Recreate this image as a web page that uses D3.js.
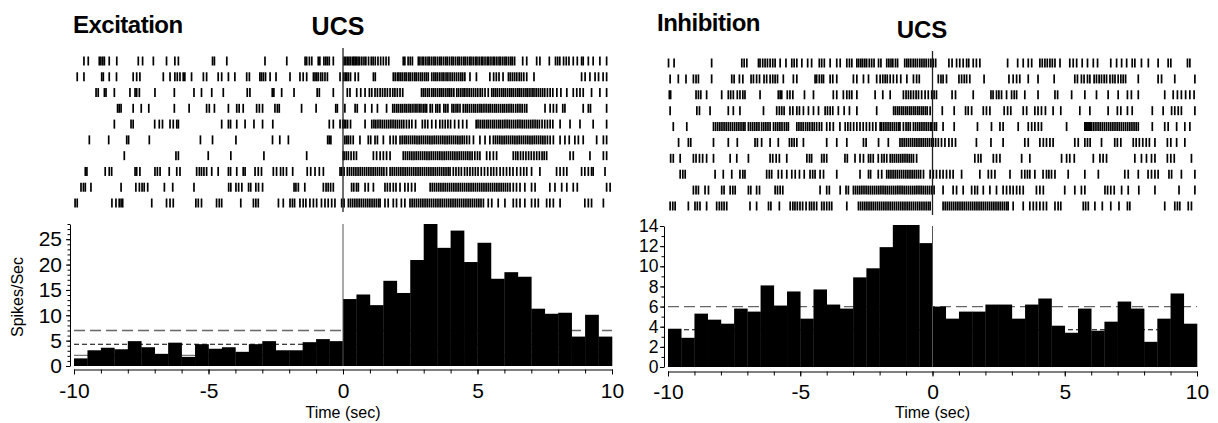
<!DOCTYPE html>
<html lang="en">
<head>
<meta charset="UTF-8">
<title>Excitation / Inhibition rasters</title>
<style>
  body { margin: 0; background: #fff; }
  svg { display: block; font-family: "Liberation Sans", Arial, sans-serif; }
  .title { font-weight: bold; }
  .axis path, .axis line { stroke: #000; }
  .axis text { fill: #000; }
</style>
</head>
<body>
<svg id="chart" width="1218" height="423"></svg>
<script src="https://d3js.org/d3.v7.min.js"></script>
<script>
// histogram bins: 0.5 s wide, from -10 s to +10 s
const binStart = -10;
const binWidth = 0.5;
const xTickValues = [-10, -5, 0, 5, 10];

// spikes/sec per bin
const excitationRate = [1.5, 3.1, 3.6, 3.3, 4.9, 3.7, 2.4, 4.6, 1.8, 4.3,
  3.4, 3.7, 2.8, 4.3, 4.9, 3.1, 3.1, 4.7, 5.3, 4.9,
  13.2, 14.1, 12.0, 16.8, 14.4, 20.9, 28.0, 23.3, 26.7, 20.5,
  24.3, 17.2, 18.5, 17.6, 11.3, 10.3, 10.5, 5.8, 10.1, 5.8];
const inhibitionRate = [3.8, 2.9, 5.3, 4.7, 4.3, 5.8, 5.5, 8.1, 6.1, 7.5,
  4.8, 7.7, 6.2, 5.8, 8.9, 9.8, 11.9, 14.1, 14.1, 12.3,
  6.0, 4.8, 5.5, 5.5, 6.2, 6.2, 4.8, 6.2, 6.8, 4.1,
  3.4, 5.8, 3.6, 4.5, 6.5, 5.8, 2.5, 4.8, 7.3, 4.3];

// reference lines (baseline mean, mean + 2 SD, lower bound)
const excitationLines = { upper: 7.0, mean: 4.3, lower: 2.1 };
const inhibitionLines = { upper: 6.0, mean: 3.7 };

// spike times (s) of the 10 trials in each raster
const excitationTrials = [
  [-9.63,-9.47,-9.06,-9.0,-8.93,-8.87,-8.69,-8.41,-7.61,-7.45,-7.05,-6.56,-6.25,-6.12,-4.85,-4.78,-4.32,-2.9,-2.09,-1.41,-1.35,-1.25,-1.16,-0.92,-0.86,-0.71,-0.64,-0.58,-0.51,-0.36,
   0.04,0.1,0.16,0.22,0.28,0.35,0.4,0.45,0.5,0.56,0.62,0.7,0.78,0.85,0.95,1.05,1.12,1.2,1.3,1.4,1.5,1.6,1.7,
   2.24,2.3,2.42,2.5,2.58,2.8,2.86,2.94,3.0,3.08,3.16,3.22,3.3,3.38,3.44,3.52,3.6,3.66,3.74,3.82,3.88,3.96,4.04,4.1,4.18,4.26,4.32,4.4,4.48,4.54,4.62,4.7,4.76,4.84,4.92,4.98,5.06,5.14,5.2,5.28,5.36,5.42,5.5,5.58,5.64,5.72,5.8,5.86,5.94,6.02,6.08,6.16,6.24,6.3,6.38,
   6.68,6.83,7.2,7.32,7.67,7.9,7.98,8.06,8.2,8.3,8.4,8.56,8.71,8.87,8.93,9.12,9.3,9.55,9.8],
  [-9.88,-9.63,-8.97,-8.91,-8.69,-8.42,-7.8,-7.67,-7.55,-6.68,-6.43,-6.25,-6.16,-6.06,-5.94,-5.88,-5.63,-5.19,-5.07,-4.64,-4.51,-4.26,-4.02,-3.58,-3.48,-3.09,-3.03,-2.96,-2.88,-2.71,-2.49,-1.97,-1.6,-1.48,-1.35,-1.1,-1.04,-0.98,-0.92,-0.83,-0.76,-0.67,-0.58,-0.11,
   0.02,0.08,0.14,0.2,0.28,0.45,0.57,1.13,1.2,
   1.87,1.94,2.02,2.08,2.15,2.22,2.3,2.36,2.44,2.5,2.58,2.66,2.72,2.8,2.88,2.95,3.03,3.1,3.17,
   3.3,3.38,3.45,3.52,3.6,3.68,3.75,3.83,3.9,3.98,4.06,4.14,4.22,4.3,4.38,4.45,4.53,
   4.72,4.96,5.46,5.6,5.7,5.8,5.95,6.15,6.22,6.3,6.38,6.46,6.55,6.63,6.72,6.83,7.1,8.87,9.0,9.18,9.37,9.5,9.67,9.8],
  [-9.18,-9.1,-8.87,-8.81,-8.5,-7.92,-7.73,-7.67,-7.57,-6.99,-6.27,-5.54,-5.26,-4.88,-4.45,-3.56,-3.46,-2.63,-2.57,-2.28,-1.82,-0.96,-0.88,-0.36,
   0.16,0.26,0.51,0.66,0.82,0.98,1.07,1.19,1.28,1.38,1.47,1.56,1.65,1.75,1.85,1.93,2.02,2.12,2.22,
   2.92,2.99,3.06,3.14,3.21,3.3,3.37,3.44,3.52,3.6,3.67,3.74,3.82,3.9,3.97,4.04,4.12,4.23,4.3,4.38,4.46,4.53,4.61,4.69,4.77,4.85,4.93,5.01,5.1,5.18,5.28,5.4,
   5.53,5.6,5.67,5.74,5.82,5.9,5.97,6.04,6.12,6.2,6.27,6.34,6.42,6.5,6.57,6.64,6.72,6.8,6.87,6.95,7.03,7.1,7.18,7.26,7.34,7.42,7.5,7.6,7.7,7.8,7.95,8.1,8.32,8.56,8.69,8.81,8.93,9.24,9.55,9.8],
  [-8.38,-8.32,-8.25,-7.8,-7.5,-7.22,-6.27,-5.72,-5.07,-4.97,-4.78,-4.26,-3.95,-3.86,-3.71,-3.21,-3.11,-2.99,-2.53,-2.44,-2.37,-1.54,-1.0,-0.27,-0.21,
   0.07,0.45,0.53,0.82,1.07,1.28,1.62,
   1.85,1.92,2.0,2.07,2.15,2.22,2.3,2.37,2.45,2.52,2.6,2.68,2.75,2.83,2.9,2.98,3.05,3.11,3.24,3.32,3.45,3.52,3.6,3.75,3.82,3.9,4.05,4.12,4.2,4.27,4.35,
   4.47,4.55,4.62,4.7,4.78,4.86,4.93,5.01,5.09,5.16,5.24,5.32,5.4,5.47,5.55,5.63,5.7,5.78,5.86,5.94,6.01,6.09,6.17,6.25,6.33,6.42,6.5,6.58,6.66,6.75,6.83,
   7.51,7.7,7.82,7.94,8.17,8.25,8.93,9.12,9.2,9.8],
  [-8.5,-7.88,-7.8,-7.0,-6.83,-6.71,-6.43,-6.31,-6.18,-6.12,-4.51,-4.26,-4.18,-3.95,-3.64,-3.31,-2.99,-2.61,-0.51,-0.36,-0.11,-0.01,
   0.04,0.1,0.17,0.28,0.82,
   1.07,1.15,1.22,1.3,1.38,1.46,1.54,1.62,1.7,1.78,1.86,1.94,2.02,2.1,2.18,2.26,2.36,2.46,2.56,2.7,
   2.95,3.05,3.15,3.3,3.45,3.6,3.7,3.8,3.9,4.0,4.15,4.3,4.45,4.6,
   4.95,5.02,5.1,5.18,5.25,5.33,5.4,5.48,5.56,5.63,5.71,5.79,5.86,5.94,6.02,6.1,6.18,6.26,6.34,6.42,6.5,6.58,6.66,6.74,6.82,6.9,6.98,7.06,7.14,7.22,7.3,7.4,7.5,7.6,7.7,7.8,
   8.07,8.44,8.81,9.3,9.8],
  [-9.43,-8.71,-8.04,-7.97,-7.2,-5.3,-4.85,-3.98,-2.62,-2.35,-2.03,-0.57,-0.51,-0.45,
   0.07,0.14,0.2,0.28,0.38,0.63,0.94,1.03,1.19,1.28,1.5,1.75,1.87,1.97,
   2.12,2.2,2.28,2.35,2.43,2.51,2.59,2.67,2.75,2.83,2.91,2.99,3.07,3.15,3.23,3.31,3.39,3.47,3.55,3.63,3.71,3.79,3.87,3.95,4.03,4.11,4.19,4.27,4.35,4.43,4.51,4.6,4.7,4.85,
   5.09,5.28,5.46,
   5.59,5.67,5.75,5.83,5.91,5.99,6.07,6.15,6.23,6.31,6.39,6.47,6.55,6.63,6.71,6.79,6.87,6.95,7.03,7.11,7.19,7.27,7.35,7.43,7.51,7.6,7.7,7.82,
   8.07,8.25,8.41,8.62,8.75,8.93,9.43,9.68,9.8],
  [-8.13,-6.21,-6.12,-5.01,-4.17,-2.94,-1.35,0.01,
   0.04,0.12,0.2,0.3,0.4,0.5,1.13,1.25,1.38,1.5,1.62,1.75,
   2.24,2.32,2.4,2.48,2.56,2.64,2.72,2.8,2.88,2.96,3.04,3.12,3.2,3.28,3.36,3.44,3.52,3.6,3.68,3.76,3.84,3.92,4.0,4.08,4.16,4.24,4.32,4.4,4.48,4.56,4.64,4.72,4.8,4.9,5.0,5.09,
   5.34,5.46,5.59,5.71,
   6.33,6.42,6.5,6.6,6.7,6.8,6.9,7.0,7.1,7.2,7.3,7.4,7.48,7.57,
   8.44,8.56,9.18,9.68,9.8],
  [-9.58,-9.52,-8.84,-8.69,-8.6,-7.73,-7.67,-7.55,-6.99,-6.9,-6.8,-6.46,-6.18,-6.06,-5.44,-5.34,-5.26,-5.17,-5.07,-4.88,-4.64,-4.26,-4.18,-3.95,-3.71,-3.64,-3.27,-3.15,-3.03,-2.59,-2.47,-2.32,-2.22,-2.1,-1.87,-1.33,-1.2,-1.04,-0.88,-0.73,-0.11,-0.05,
   0.04,0.16,0.24,0.32,0.4,0.48,0.56,0.64,0.72,0.8,0.88,0.96,1.04,1.12,1.2,1.28,1.36,1.44,1.52,1.62,
   1.75,1.83,1.91,1.99,2.07,2.15,2.23,2.31,2.39,2.47,2.55,2.63,2.71,2.79,2.87,2.95,3.03,3.11,3.19,3.27,3.35,3.43,3.51,3.59,3.67,3.75,3.83,3.91,3.98,
   4.1,4.2,4.3,4.4,4.52,4.62,4.72,4.82,4.92,5.02,5.14,5.26,5.38,5.5,5.6,5.71,
   5.84,5.96,6.08,6.2,6.32,6.46,6.6,6.72,6.83,7.01,7.32,7.94,8.07,8.2,8.32,8.87,8.99,9.12,9.24,9.3,9.74],
  [-9.74,-9.65,-9.58,-9.37,-8.25,-7.7,-7.57,-7.47,-7.39,-7.26,-6.64,-6.33,-5.54,-4.25,-4.17,-3.98,-3.88,-3.76,-3.51,-3.43,-3.24,-3.14,-2.99,-1.82,-1.75,-1.66,-1.42,-0.73,-0.63,-0.55,-0.46,-0.36,
   0.32,0.4,0.5,0.57,0.82,0.94,1.13,1.56,1.65,1.75,1.87,1.97,2.12,2.3,2.42,2.55,2.68,
   3.24,3.32,3.4,3.48,3.56,3.64,3.72,3.8,3.88,3.96,4.04,4.12,4.2,4.28,4.36,4.44,4.52,4.6,4.68,4.76,4.84,4.92,5.0,5.08,5.16,5.24,5.32,5.4,5.48,5.56,5.64,5.72,5.8,5.88,5.96,6.04,6.12,6.21,
   6.33,6.45,6.58,6.76,7.01,7.14,7.69,7.88,8.13,8.32,8.56,8.71,9.8,9.93],
  [-9.96,-9.88,-8.59,-8.44,-8.32,-8.25,-8.19,-7.11,-6.56,-6.43,-6.31,-5.47,-5.38,-5.26,-4.7,-4.6,-4.51,-3.8,-3.33,-3.24,-3.15,-2.4,-2.22,-1.97,-1.88,-1.8,-1.6,-1.48,-1.38,-1.23,-1.1,-0.98,-0.8,-0.67,-0.55,-0.42,-0.3,-0.05,
   0.04,0.2,0.28,0.36,0.44,0.52,0.6,0.68,0.76,0.84,0.92,1.0,1.08,1.16,1.24,1.32,1.38,1.56,1.68,1.87,1.99,2.17,2.3,
   2.49,2.57,2.65,2.73,2.81,2.89,2.97,3.05,3.13,3.21,3.29,3.37,3.45,3.53,3.61,3.69,3.77,3.85,3.93,4.01,4.09,4.17,4.25,4.33,4.41,4.49,4.57,4.65,4.73,4.81,4.89,4.97,5.05,5.13,5.22,
   5.4,5.53,5.77,6.02,6.33,6.45,6.58,6.76,7.01,7.14,7.26,7.57,7.69,7.82,8.07,8.99,9.12,9.24,9.68]
];

const inhibitionTrials = [
  [-9.98,-9.77,-8.35,-7.21,-7.12,-7.02,-6.58,-6.52,-6.42,-6.33,-6.24,-6.14,-6.04,-5.95,-5.76,-5.54,-5.32,-5.23,-5.13,-4.94,-4.72,-4.57,-4.28,-4.19,-4.09,-3.87,-3.62,-3.49,-3.24,-3.14,-3.05,-2.86,-2.79,-2.71,-2.64,-2.56,-2.49,-2.39,-2.3,-2.21,-2.04,-1.95,-1.73,-1.65,-1.57,-1.5,-1.4,-1.32,-1.05,-0.97,-0.9,-0.82,-0.73,-0.65,-0.57,-0.48,-0.4,-0.32,-0.24,-0.15,-0.06,
   0.03,0.12,0.62,0.74,0.91,1.03,1.16,1.29,1.37,1.54,1.66,1.79,2.84,3.22,3.43,3.62,3.75,4.06,4.15,4.25,4.34,4.44,4.53,4.63,4.82,5.19,5.32,5.45,5.66,5.86,6.08,6.24,6.74,6.96,7.15,7.34,7.55,7.65,7.9,8.16,8.53,8.91,9.01,9.64,9.73],
  [-9.92,-9.61,-9.32,-9.04,-8.94,-8.85,-8.35,-7.59,-7.5,-7.3,-7.17,-6.86,-6.77,-6.65,-6.54,-6.37,-6.27,-6.14,-6.04,-5.95,-5.86,-5.64,-5.26,-5.13,-4.44,-4.38,-4.28,-4.19,-4.12,-3.87,-3.77,-3.62,-2.99,-2.86,-2.61,-2.42,-2.11,-1.98,-1.88,-1.79,-1.71,-1.6,-1.48,-1.35,-1.2,-0.97,-0.72,-0.6,-0.5,
   0.22,0.32,0.4,0.53,1.0,1.1,1.2,1.29,1.41,1.95,2.89,3.05,3.18,3.3,3.62,3.99,4.6,5.38,5.48,5.63,5.73,5.86,5.95,6.11,6.2,6.3,6.39,6.49,6.58,6.71,6.81,6.9,7.02,7.12,7.21,7.3,7.78,8.53,8.66,9.16,9.92],
  [-9.95,-9.9,-8.94,-8.85,-8.76,-8.54,-7.97,-7.72,-7.63,-7.53,-7.38,-7.28,-7.17,-7.09,-6.52,-5.83,-5.76,-5.7,-5.49,-5.39,-5.28,-4.84,-4.5,-3.75,-3.62,-3.37,-3.24,-3.14,-3.05,-2.86,-2.17,-1.88,-1.6,-1.1,-1.0,-0.91,-0.82,-0.72,-0.62,-0.53,-0.41,-0.28,-0.16,-0.03,
   0.06,0.15,0.74,0.87,1.54,2.21,2.29,2.42,2.51,2.61,2.8,2.99,3.09,3.18,3.49,3.99,4.63,4.73,5.26,5.76,6.2,6.64,7.02,7.37,7.52,7.78,8.78,9.1,9.26,9.41,9.57,9.73,9.89],
  [-9.92,-8.91,-8.81,-8.41,-7.72,-7.53,-7.28,-6.39,-5.89,-5.79,-5.7,-5.61,-5.39,-5.28,-5.13,-5.03,-4.88,-4.69,-4.5,-4.31,-4.06,-3.97,-3.87,-3.77,-3.56,-3.34,-3.14,-2.86,-2.11,
   -1.47,-1.4,-1.32,-1.25,-1.17,-1.1,-1.02,-0.95,-0.87,-0.8,-0.72,-0.65,-0.57,-0.5,-0.42,-0.35,-0.27,-0.2,-0.09,
   0.37,0.82,1.25,1.35,1.48,1.92,2.04,2.17,2.71,2.84,2.96,3.43,3.56,3.87,3.99,4.12,4.27,4.56,4.85,5.57,5.95,6.64,6.99,7.12,7.37,7.55,8.31,8.72,9.04,9.16,9.29,9.41,9.92],
  [-9.8,-9.29,
   -8.28,-8.2,-8.12,-8.04,-7.96,-7.88,-7.8,-7.72,-7.64,-7.56,-7.48,-7.4,-7.32,-7.24,-7.16,-7.09,
   -6.96,-6.88,-6.8,-6.72,-6.64,-6.56,-6.46,-6.38,-6.3,-6.22,-6.14,
   -6.01,-5.93,-5.85,-5.77,-5.69,-5.6,-5.52,-5.45,
   -5.13,-5.05,-4.97,-4.89,-4.8,-4.72,-4.64,-4.55,-4.47,-4.38,-4.28,-4.19,
   -4.0,-3.88,-3.75,-3.5,
   -3.3,-3.2,-3.1,-2.98,-2.86,-2.74,-2.62,-2.5,-2.38,-2.26,-2.14,-1.98,
   -1.92,-1.84,-1.76,-1.68,-1.6,-1.52,-1.44,-1.36,-1.28,-1.23,
   -1.1,-1.0,-0.92,-0.84,
   -0.72,-0.64,-0.56,-0.48,-0.4,-0.32,-0.24,-0.16,-0.08,-0.03,
   0.0,0.08,0.15,0.4,0.82,1.7,2.23,2.55,2.67,3.24,3.62,3.75,3.87,4.0,4.12,5.07,
   5.76,5.8,5.84,5.88,5.92,5.96,6.02,6.1,6.18,6.26,6.34,6.42,6.5,6.58,6.66,6.74,6.82,6.9,6.98,7.06,7.14,7.22,7.3,7.38,7.46,7.54,7.62,7.7,7.78,
   8.31,8.78,8.91,9.23,9.54,9.73],
  [-9.6,-9.23,-9.14,-8.28,-7.72,-7.38,-6.71,-6.62,-6.46,-6.14,-5.83,-5.41,-5.32,-5.23,-5.13,-4.88,-4.0,-3.62,-3.24,-2.61,-2.51,-2.04,-1.67,
   -1.23,-1.15,-1.07,-0.99,-0.91,-0.83,-0.75,-0.67,-0.59,-0.51,-0.43,-0.35,-0.27,-0.19,-0.11,-0.03,
   0.03,0.12,0.22,0.34,0.47,0.62,0.74,0.87,1.66,2.21,2.67,3.49,3.62,4.06,4.19,4.31,4.44,4.56,5.38,5.51,5.76,5.86,5.96,6.39,6.89,6.99,7.12,7.59,7.7,7.82,7.95,8.08,8.2,8.41,8.88,9.01,9.23,9.54],
  [-9.9,-9.8,-9.54,-9.04,-8.94,-8.81,-8.69,-8.54,-8.28,-7.65,-7.4,-6.96,-6.14,-6.04,-5.91,-5.79,-5.51,-4.75,-4.65,-4.57,-4.19,-4.1,-4.0,-3.31,-3.22,-2.93,-2.74,-2.61,-2.42,-2.34,-2.24,-2.05,-1.92,-1.83,-1.73,
   -1.6,-1.52,-1.44,-1.36,-1.28,-1.2,-1.12,-1.04,-0.96,-0.88,-0.8,-0.72,-0.6,
   1.6,1.73,1.83,2.3,2.42,2.55,3.37,3.68,4.88,5.07,5.19,5.36,6.08,6.33,6.45,6.58,7.65,7.9,8.09,8.28,8.41,8.88,9.01,9.14,9.79],
  [-9.54,-9.44,-9.35,-8.22,-7.91,-7.59,-7.28,-7.17,-7.09,-6.27,-6.17,-6.08,-5.83,-5.7,-5.51,-5.32,-5.19,-5.03,-4.85,-4.63,-4.53,-4.44,-4.25,-4.12,-3.62,-2.74,-2.42,-2.34,-2.05,-1.92,
   -1.73,-1.65,-1.57,-1.49,-1.41,-1.33,-1.25,-1.17,-1.09,-1.01,-0.93,-0.85,-0.77,-0.69,-0.61,-0.53,-0.45,-0.34,-0.09,
   0.03,0.15,0.28,0.4,0.53,0.66,0.78,1.1,1.79,2.11,2.23,2.36,2.93,3.37,3.49,3.59,3.68,3.87,4.18,4.31,4.4,4.5,4.63,5.13,5.76,6.27,7.27,7.4,7.78,8.15,8.28,8.41,8.53,8.94,9.04,9.41,9.92],
  [-9.04,-8.94,-8.85,-8.6,-8.47,-7.97,-7.88,-7.65,-7.55,-7.46,-6.96,-6.87,-6.65,-6.54,-5.95,-5.86,-5.76,-5.66,-4.25,-4.0,-3.9,-3.49,-3.27,-3.18,
   -2.99,-2.91,-2.83,-2.75,-2.67,-2.59,-2.51,-2.43,-2.35,-2.27,-2.19,-2.11,-2.03,-1.95,-1.87,-1.79,-1.71,-1.63,-1.55,-1.47,-1.39,-1.31,-1.23,-1.15,-1.07,-0.99,-0.91,-0.83,-0.75,-0.67,-0.59,-0.51,-0.43,-0.35,-0.27,-0.19,-0.11,-0.03,
   0.06,0.4,0.78,0.91,1.16,1.48,1.6,1.7,1.92,2.17,2.42,2.67,2.8,2.93,3.05,3.18,3.3,3.43,3.93,4.06,4.19,5.0,5.38,5.63,5.76,6.52,6.62,6.74,6.87,7.15,7.4,7.8,8.41,9.32,9.92],
  [-9.92,-9.82,-9.73,-9.23,-8.98,-8.89,-8.79,-8.54,-8.16,-8.06,-7.97,-7.88,-7.78,-6.9,-6.65,-6.2,-6.11,-5.79,-5.38,-5.28,-5.2,-5.11,-5.01,-4.91,-4.78,-4.65,-4.57,-4.48,-4.38,-4.19,-4.1,-4.0,-3.9,-3.81,-3.24,
   -2.8,-2.72,-2.64,-2.56,-2.48,-2.4,-2.32,-2.24,-2.16,-2.08,-2.0,-1.92,-1.84,-1.76,-1.68,-1.6,-1.52,-1.44,-1.36,-1.28,-1.2,-1.12,-1.04,-0.96,-0.88,-0.8,-0.72,-0.64,-0.56,-0.48,-0.4,-0.32,-0.24,-0.16,-0.09,
   0.4,0.48,0.56,0.64,0.72,0.8,0.88,0.96,1.04,1.12,1.2,1.28,1.36,1.44,1.52,1.6,1.68,1.76,1.84,1.92,2.0,2.08,2.16,2.24,2.32,2.4,2.48,2.56,2.64,2.72,2.8,2.86,
   3.05,3.43,3.68,3.81,3.93,4.06,4.19,4.31,4.63,4.75,4.85,5.7,5.79,5.89,6.14,6.42,6.74,7.05,7.37,7.46,8.78,9.16,9.26,9.35,9.67,9.79]
];

const svg = d3.select("#chart");
svg.append("rect").attr("width", 1218).attr("height", 423).attr("fill", "#fff");

function drawPanel(p) {
    const g = svg.append("g");
    const x = d3.scaleLinear().domain([-10, 10]).range(p.xRange);
    const y = d3.scaleLinear().domain([0, p.yMax]).range(p.yRange);
    const row = d3.scalePoint().domain(d3.range(p.trials.length)).range(p.rowRange);

    // titles
    g.append("text").attr("class", "title")
        .attr("x", p.titleX).attr("y", p.titleY)
        .attr("font-size", 24).attr("letter-spacing", -0.5)
        .text(p.title);
    g.append("text").attr("class", "title")
        .attr("x", p.ucsX).attr("y", p.ucsY)
        .attr("text-anchor", "middle")
        .attr("font-size", p.ucsSize)
        .text("UCS");

    // raster
    const raster = g.append("g");
    p.trials.forEach((spikes, i) => {
        raster.selectAll(null)
            .data(spikes)
            .enter()
            .append("line")
            .attr("x1", d => x(d)).attr("x2", d => x(d))
            .attr("y1", row(i) - 4.5).attr("y2", row(i) + 4.5)
            .attr("stroke", "#000")
            .attr("stroke-width", 1.7);
    });
    g.append("line")
        .attr("x1", x(0)).attr("x2", x(0))
        .attr("y1", p.ucsTop).attr("y2", p.rowRange[1] + 9)
        .attr("stroke", "#222").attr("stroke-width", 1.3);

    // reference lines sit behind the bars
    const refs = [
        { v: p.lines.upper, dash: "11,5", color: "#666", w: 1.3 },
        { v: p.lines.mean, dash: "5,3", color: "#000", w: 1.1 },
        { v: p.lines.lower, dash: null, color: "#777", w: 1.1 }
    ].filter(r => r.v != null);
    g.selectAll(null).data(refs).enter().append("line")
        .attr("x1", x(-10)).attr("x2", x(10))
        .attr("y1", d => y(d.v)).attr("y2", d => y(d.v))
        .attr("stroke", d => d.color)
        .attr("stroke-width", d => d.w)
        .attr("stroke-dasharray", d => d.dash);

    // PSTH bars
    g.selectAll(null)
        .data(p.rate)
        .enter()
        .append("rect")
        .attr("x", (d, i) => x(binStart + i * binWidth))
        .attr("width", x(binWidth) - x(0) + 0.3)
        .attr("y", d => y(d))
        .attr("height", d => y(0) - y(d))
        .attr("fill", "#000");

    // stimulus line in the histogram
    g.append("line")
        .attr("x1", x(0)).attr("x2", x(0))
        .attr("y1", y(p.yMax)).attr("y2", y(0))
        .attr("stroke", "#555").attr("stroke-width", 1);

    // x axis
    const xAxisY = y(0) + p.xAxisGap;
    g.append("g").attr("class", "axis")
        .attr("transform", "translate(0," + xAxisY + ")")
        .call(d3.axisBottom(x).tickValues(d3.range(-10, 11)).tickSize(4).tickSizeOuter(0).tickFormat(""));
    g.append("g").attr("class", "axis")
        .attr("transform", "translate(0," + xAxisY + ")")
        .call(d3.axisBottom(x).tickValues(xTickValues).tickSize(5).tickPadding(p.xPad).tickSizeOuter(0)
            .tickFormat(d => String(d)))
        .call(a => a.select(".domain").remove())
        .selectAll("text").attr("font-size", 21).attr("font-family", null);

    g.append("text")
        .attr("x", x(0)).attr("y", 418)
        .attr("text-anchor", "middle")
        .attr("font-size", 16)
        .text("Time (sec)");

    // y axis
    g.append("g").attr("class", "axis")
        .attr("transform", "translate(" + p.yAxisX + ",0)")
        .call(d3.axisLeft(y).tickValues(d3.range(0, p.yMax + 1)).tickSize(2.5).tickSizeOuter(0).tickFormat(""));
    g.append("g").attr("class", "axis")
        .attr("transform", "translate(" + p.yAxisX + ",0)")
        .call(d3.axisLeft(y).tickValues(p.yTicks).tickSize(4).tickPadding(p.yPad).tickFormat(d => String(d)))
        .call(a => a.select(".domain").remove())
        .selectAll("text").attr("font-size", p.yFont).attr("font-family", null);

    if (p.yLabel) {
        g.append("text")
            .attr("transform", "translate(23," + ((y(0) + y(p.yMax)) / 2 + 2) + ") rotate(-90)")
            .attr("text-anchor", "middle")
            .attr("font-size", 16)
            .text(p.yLabel);
    }
}

drawPanel({
    title: "Excitation", titleX: 73, titleY: 33,
    ucsX: 338, ucsY: 35, ucsSize: 25, ucsTop: 48,
    xRange: [74, 612], rowRange: [61, 203],
    yMax: 28, yRange: [366, 224], yTicks: [0, 5, 10, 15, 20, 25], yFont: 21,
    yAxisX: 70, yPad: 4, xAxisGap: 3.5, xPad: 9,
    trials: excitationTrials, rate: excitationRate, lines: excitationLines,
    yLabel: "Spikes/Sec"
});

drawPanel({
    title: "Inhibition", titleX: 657, titleY: 31,
    ucsX: 922, ucsY: 38, ucsSize: 24, ucsTop: 51,
    xRange: [668, 1197], rowRange: [63, 206],
    yMax: 14, yRange: [367, 226], yTicks: [0, 2, 4, 6, 8, 10, 12, 14], yFont: 17.5,
    yAxisX: 664, yPad: 1.5, xAxisGap: 4.5, xPad: 8,
    trials: inhibitionTrials, rate: inhibitionRate, lines: inhibitionLines
});
</script>
</body>
</html>
